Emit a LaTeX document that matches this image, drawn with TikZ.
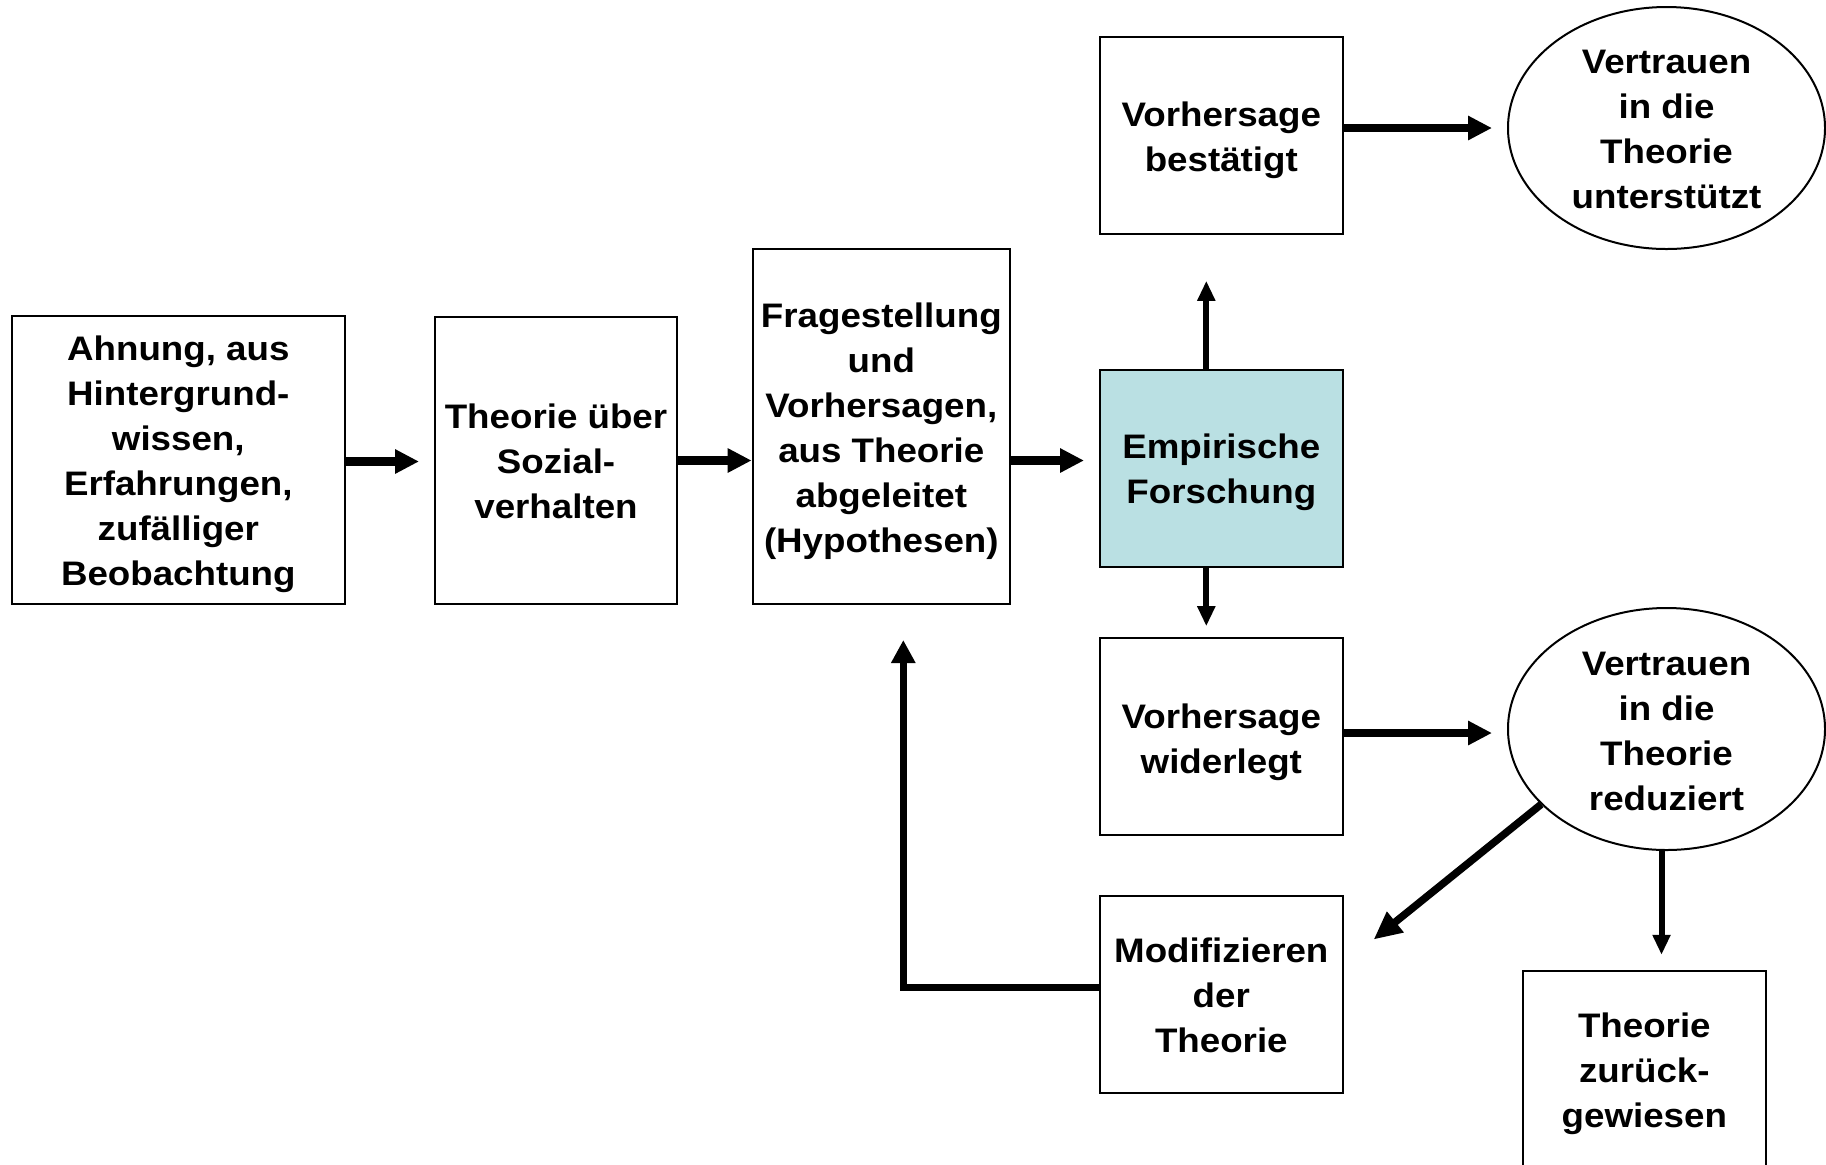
\documentclass[tikz,border=0pt]{standalone}
\usepackage{fontspec}
\setmainfont{Liberation Sans}[FakeStretch=1.08]
\usetikzlibrary{arrows.meta,calc,shapes.geometric}
\definecolor{empblue}{RGB}{186,224,227}
\newcommand\diagtxt{\fontsize{17}{22.5}\selectfont\bfseries}
\begin{document}
\begin{tikzpicture}[x=0.5pt,y=-0.5pt]
\tikzset{
  box/.style={draw, line width=1pt, inner sep=0pt},
  smallbox/.style={box, minimum width=121.3pt, minimum height=98.5pt},
  oval/.style={draw, line width=1pt, ellipse, inner sep=0pt, minimum width=158.5pt, minimum height=121pt},
  lbl/.style={inner sep=0pt, align=center, font=\diagtxt},
  bigarrow/.style={line width=4.25pt, -{Triangle[length=12pt,width=11.5pt]}},
  medarrow/.style={line width=3pt, -{Triangle[length=10pt,width=8.5pt]}},
  diagarrow/.style={line width=3.75pt, -{Triangle[length=14pt,width=12.5pt]}},
  backarrow/.style={line width=3.5pt, -{Triangle[length=11.5pt,width=11.5pt]}}
}
\useasboundingbox (0,0) rectangle (1826,1164);
\clip (0,0) rectangle (1826,1164);
\fill[white] (0,0) rectangle (1826,1164);

% shapes
\node[box, minimum width=166.7pt, minimum height=144pt] (b1) at (178.3,460) {};
\node[box, minimum width=121pt, minimum height=143.5pt] (b2) at (556,460.5) {};
\node[box, minimum width=128.7pt, minimum height=177.3pt] (b3) at (881.3,426.7) {};
\node[smallbox, fill=empblue] (emp) at (1221.3,468.3) {};
\node[smallbox] (best) at (1221.3,135.3) {};
\node[smallbox] (wid) at (1221.3,736.7) {};
\node[smallbox] (mod) at (1221.3,994) {};
\node[oval] (ell1) at (1666.5,128) {};
\node[oval] (ell2) at (1666.5,729) {};
\node[smallbox] (zur) at (1644.3,1069.3) {};

% texts
\node[lbl] (b1t) at ($(b1)+(0,4.7)$)
  {Ahnung, aus\\Hintergrund-\\wissen,\\Erfahrungen,\\zufälliger\\Beobachtung};
\node[lbl] (b2t) at ($(b2)+(0,1.2)$) {Theorie über\\Sozial-\\verhalten};
\node[lbl] (b3t) at ($(b3)+(0,4.7)$)
  {Fragestellung\\und\\Vorhersagen,\\aus Theorie\\abgeleitet\\(Hypothesen)};
\node[lbl] (empt) at ($(emp)+(0,4)$) {Empirische\\Forschung};
\node[lbl] (bestt) at ($(best)+(0,5.2)$) {Vorhersage\\bestätigt};
\node[lbl] (widt) at ($(wid)+(0,5.8)$) {Vorhersage\\widerlegt};
\node[lbl] (modt) at ($(mod)+(0,1.2)$) {Modifizieren\\der\\Theorie};
\node[lbl] (ell1t) at ($(ell1)+(0,1.7)$) {Vertrauen\\in die\\Theorie\\unterstützt};
\node[lbl] (ell2t) at ($(ell2)+(0,2.3)$) {Vertrauen\\in die\\Theorie\\reduziert};
\node[lbl] (zurt) at ($(zur)+(0,4.7)$) {Theorie\\zurück-\\gewiesen};

% main flow
\draw[bigarrow] ($(b1.east)+(0,1.5)$) -- ($(b2.west)+(-15,1)$);
\draw[bigarrow] (b2.east) -- (b2.east -| b3.west);
\draw[bigarrow] (b3.east |- b2.east) -- ($(emp.west |- b2.east)+(-15,0)$);
% empirical research up / down
\draw[medarrow] ($(emp.north)+(-15,0)$) -- ($(best.south)+(-15,46)$);
\draw[medarrow] ($(emp.south)+(-15,0)$) -- ($(wid.north)+(-15,-11)$);
% to the ellipses
\draw[bigarrow] (best.east |- ell1.west) -- ($(ell1.west)+(-15,0)$);
\draw[bigarrow] ($(wid.east |- ell2.west)+(0,4)$) -- ($(ell2.west)+(-15,4)$);
% from reduced trust
\draw[diagarrow] (ell2.211) -- ($(mod.north east)+(30,45)$);
\draw[medarrow] ($(ell2.south)+(-5,0)$) -- ($(ell2.south |- zur.north)+(-5,-15)$);
% feedback loop
\draw[backarrow] ($(mod.west)+(0,-7)$) -| ($(b3.south)+(22,35)$);
\end{tikzpicture}
\end{document}
